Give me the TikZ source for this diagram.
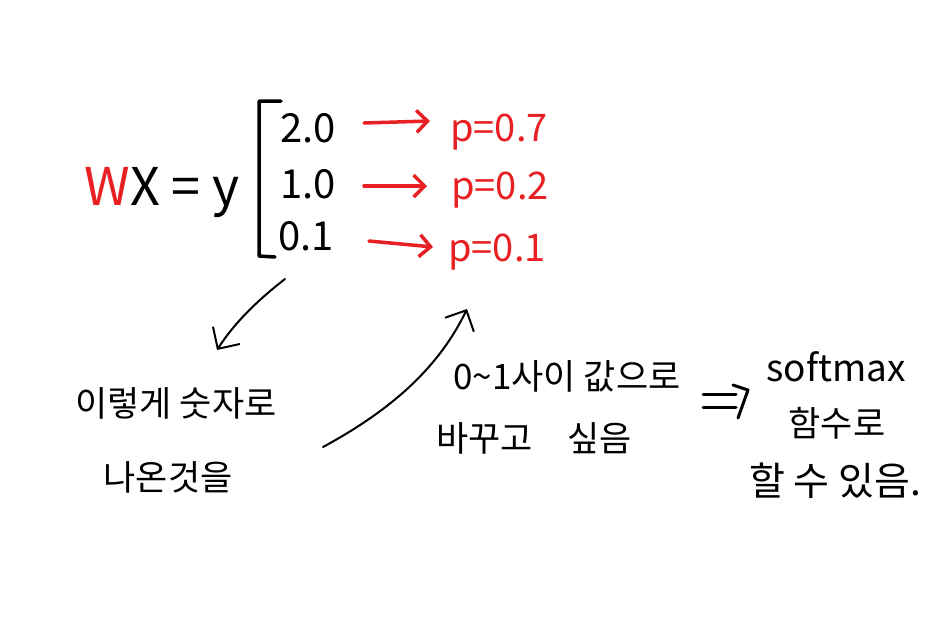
\documentclass[tikz,border=0pt]{standalone}
\usepackage{fontspec}
\setmainfont{Noto Sans CJK KR}
\usetikzlibrary{arrows.meta}
\definecolor{penred}{RGB}{232,32,36}
\begin{document}
\begin{tikzpicture}[x=1pt,y=-1pt,
  kor/.style={font=\fontsize{35}{40}\selectfont, align=center, inner sep=0pt},
  num/.style={font=\fontsize{40}{44}\selectfont, inner sep=0pt},
  prob/.style={font=\fontsize{38}{42}\selectfont, text=penred, inner sep=0pt},
  redarrow/.style={draw=penred, line width=3.5pt, line cap=round, -{Straight Barb[length=11pt,width=22pt,line width=3.5pt]}},
  blackarrow/.style={draw=black, line width=2pt, line cap=round, -{Straight Barb[length=16pt,width=32pt,line width=2pt]}}
]
\useasboundingbox[fill=white] (0,0) rectangle (951,622);

% equation
\node[font=\fontsize{52}{56}\selectfont, inner sep=0pt] (eq) at (162,193) {\textcolor{penred}{W}X = y};

% bracket
\draw[line width=3.5pt, line cap=round, line join=round] (281,101) -- (259,101) -- (259,256) -- (275,257);

% values
\node[num] (v1) at (308,128) {2.0};
\node[num] (v2) at (308,184) {1.0};
\node[num] (v3) at (306,236) {0.1};

% probabilities
\node[prob] (p1) at (499,132) {p=0.7};
\node[prob] (p2) at (500,190) {p=0.2};
\node[prob] (p3) at (497,252) {p=0.1};

\coordinate (a1s) at (364,123); \coordinate (a1e) at (430,121);
\coordinate (a2s) at (364,186); \coordinate (a2e) at (427,186);
\coordinate (a3s) at (369,241); \coordinate (a3e) at (433,247);
\draw[redarrow] (a1s) -- (a1e);
\draw[redarrow] (a2s) -- (a2e);
\draw[redarrow] (a3s) -- (a3e);

% texts
\node[kor] (t1) at (176,403) {이렇게 숫자로};
\node[kor] (t2) at (168,477) {나온것을};
\node[kor] (t3) at (567,376) {0\textasciitilde1사이 값으로};
\node[kor] (t4) at (534,438) {바꾸고\quad 싶음};
\node[kor, font=\fontsize{37}{40}\selectfont] (t5) at (836,367) {softmax};
\node[kor] (t6) at (837,423) {함수로};
\node[kor, font=\fontsize{39}{42}\selectfont] (t7) at (835,481) {할 수 있음.};

% curved arrows
\coordinate (c1s) at (285,279); \coordinate (c1e) at (217,350);
\draw[blackarrow] (c1s) .. controls (258,300) and (235,322) .. (c1e);
\coordinate (c2s) at (323,447); \coordinate (c2e) at (467,309);
\draw[blackarrow] (c2s) .. controls (395,408) and (440,365) .. (c2e);

% implies arrow
\coordinate (i1) at (703,394); \coordinate (i2) at (736,394);
\coordinate (i3) at (703,407); \coordinate (i4) at (736,407);
\draw[line width=3pt, line cap=round] (i1) -- (i2) (i3) -- (i4);
\draw[line width=3pt, line cap=round, line join=round] (733,385) -- (748,390) -- (738,418);
\end{tikzpicture}
\end{document}
